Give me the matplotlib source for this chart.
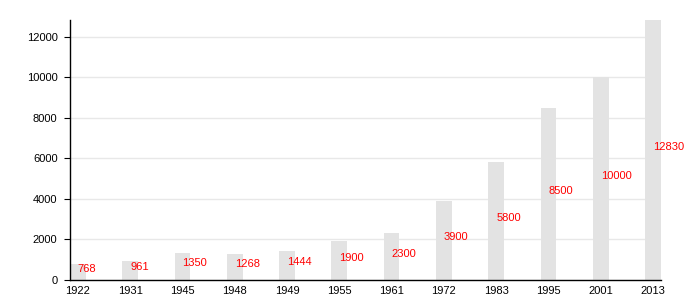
import numpy as np
import matplotlib
matplotlib.use("Agg")
from matplotlib import pyplot as plt

# population by census year
years = ["1922", "1931", "1945", "1948", "1949", "1955", "1961",
         "1972", "1983", "1995", "2001", "2013"]
population = [768, 961, 1350, 1268, 1444, 1900, 2300,
              3900, 5800, 8500, 10000, 12830]

plt.rcParams['font.family'] = ['Liberation Sans', 'DejaVu Sans']

fig = plt.figure(figsize=(7, 3), dpi=100)
ax = fig.add_axes([0.1, 0.0667, 0.844, 0.8667])

x = np.arange(len(years))
ax.bar(x, population, width=0.3, color='#e3e3e3', zorder=2)

# value labels, in red, half way up each bar
for xi, v in zip(x, population):
    ax.text(xi, v / 2, str(v), color='#ff0000', fontsize=8,
            ha='left', va='baseline', zorder=3)

ax.set_xlim(-0.15, len(years) - 1 + 0.15)
ax.set_ylim(0, 12830)
ax.set_xticks(x)
ax.set_xticklabels(years)
ax.set_yticks(np.arange(0, 12001, 2000))

ax.grid(axis='y', color='#e8e8e8', linewidth=1, zorder=0)
ax.set_axisbelow(True)

for s in ['top', 'right']:
    ax.spines[s].set_visible(False)
for s in ['left', 'bottom']:
    ax.spines[s].set_color('black')
    ax.spines[s].set_linewidth(1)

ax.tick_params(axis='x', length=0, pad=4, labelsize=8)
ax.tick_params(axis='y', length=4, pad=5, labelsize=8)

plt.savefig("out.png", dpi=100)
